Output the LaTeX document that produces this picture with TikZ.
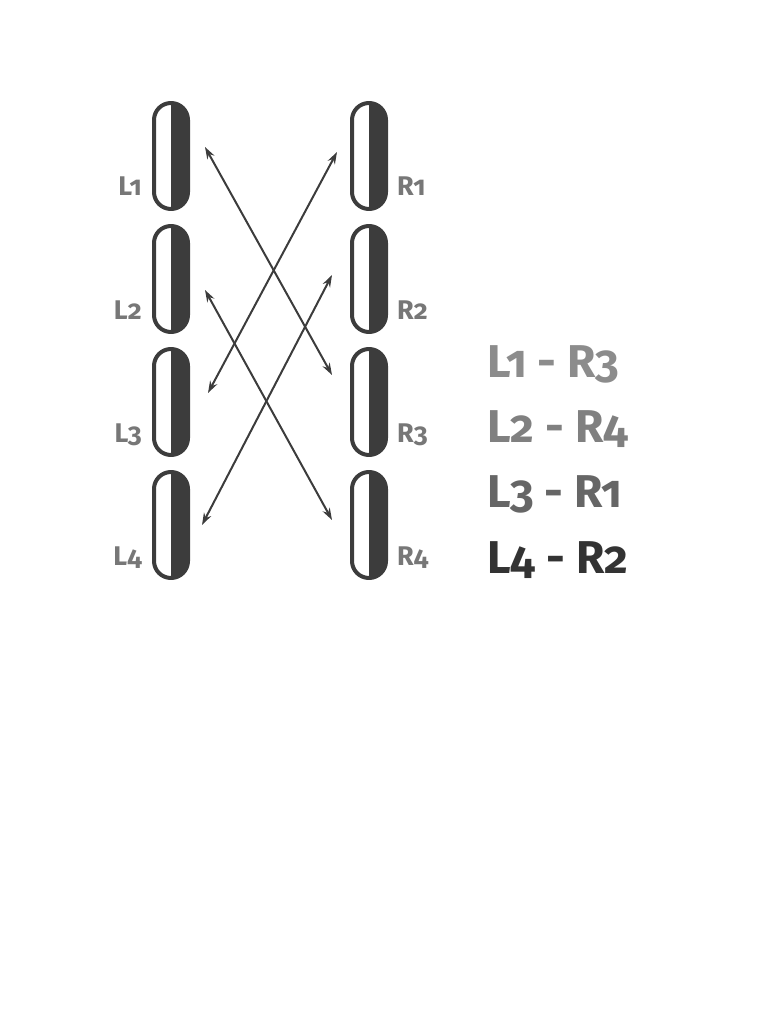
\documentclass[tikz,border=0pt]{standalone}
\usepackage{fontspec}
\setmainfont[Numbers=OldStyle]{Fira Sans}
\usetikzlibrary{arrows.meta}
\definecolor{pilldark}{HTML}{3C3C3C}
\definecolor{labgray}{HTML}{777777}
\tikzset{
	pill/.style={draw=pilldark, line width=4pt, rounded corners=17pt,
		minimum width=34pt, minimum height=106pt, inner sep=0pt,
		path picture={\fill[pilldark, sharp corners] (path picture bounding box.north) rectangle (path picture bounding box.south east);}},
	lab/.style={text=labgray, font=\bfseries\fontsize{27}{30}\selectfont, inner sep=0pt},
	pair/.style={font=\bfseries\fontsize{46}{50}\selectfont, inner sep=0pt, anchor=base west}
}
\begin{document}
\begin{tikzpicture}[x=1pt,y=-1pt, line join=round, line cap=round, >={Stealth[length=12pt,width=8pt]}]
	\useasboundingbox (0,0) rectangle (768,1024);
	%%Hai cột
	\def \xL{171}
	\def \xR{369}
	\foreach \i/\y in {1/156,2/279,3/402,4/525}{
		\node[pill] (L\i) at (\xL,\y) {};
		\node[pill] (R\i) at (\xR,\y) {};
		\node[lab, anchor=base east] (tL\i) at (142,\y+40) {L\i};
		\node[lab, anchor=base west] (tR\i) at (397,\y+40) {R\i};
	}
	%%Mũi tên
	\draw[<->, pilldark, line width=2pt] ([xshift=34pt,yshift=9pt]L1.center) -- ([xshift=-37pt,yshift=27pt]R3.center);
	\draw[<->, pilldark, line width=2pt] ([xshift=-32pt,yshift=4pt]R1.center) -- ([xshift=37pt,yshift=9pt]L3.center);
	\draw[<->, pilldark, line width=2pt] ([xshift=34pt,yshift=-11pt]L2.center) -- ([xshift=-37pt,yshift=5pt]R4.center);
	\draw[<->, pilldark, line width=2pt] ([xshift=-37pt,yshift=4pt]R2.center) -- ([xshift=31pt]L4.center);
	%%Ghép cặp
	\node[pair, text=black!45] (p1) at (487,377) {L1 - R3};
	\node[pair, text=black!50] (p2) at (487,442) {L2 - R4};
	\node[pair, text=black!60] (p3) at (487,507) {L3 - R1};
	\node[pair, text=black!80] (p4) at (487,573) {L4 - R2};
\end{tikzpicture}
\end{document}
